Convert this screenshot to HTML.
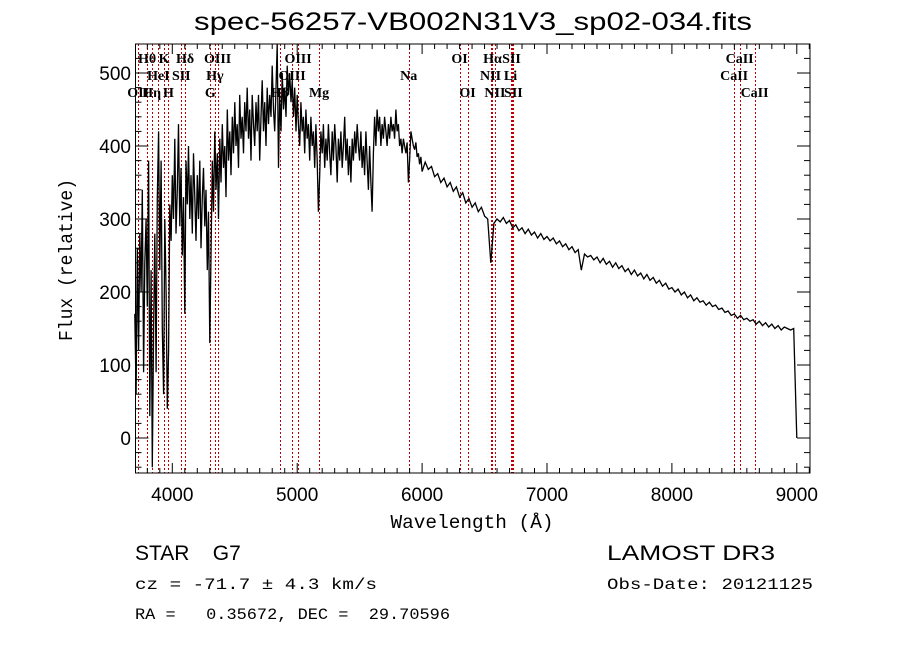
<!DOCTYPE html>
<html><head><meta charset="utf-8"><style>
html,body{margin:0;padding:0;background:#fff;}
svg{display:block;}
text{fill:#000;}
</style></head><body>
<svg id="chart" width="900" height="649" viewBox="0 0 900 649" xmlns="http://www.w3.org/2000/svg">
<rect x="0" y="0" width="900" height="649" fill="#fff"/>
<text x="473" y="30" font-family="Liberation Sans, sans-serif" font-size="25" text-anchor="middle" textLength="558" lengthAdjust="spacingAndGlyphs">spec-56257-VB002N31V3_sp02-034.fits</text>
<g id="lines"></g>
<g id="series"></g>
<g id="axes"></g>
<text x="472" y="528" font-family="Liberation Mono, monospace" font-size="19" text-anchor="middle" textLength="163" lengthAdjust="spacingAndGlyphs">Wavelength (Å)</text>
<text transform="translate(72,260) rotate(-90)" font-family="Liberation Mono, monospace" font-size="19" text-anchor="middle" textLength="162" lengthAdjust="spacingAndGlyphs">Flux (relative)</text>
<text x="135" y="560" font-family="Liberation Sans, sans-serif" font-size="21" xml:space="preserve">STAR    G7</text>
<text x="607" y="560" font-family="Liberation Sans, sans-serif" font-size="21" textLength="168" lengthAdjust="spacingAndGlyphs">LAMOST DR3</text>
<text x="135" y="589" font-family="Liberation Mono, monospace" font-size="16" textLength="242" lengthAdjust="spacingAndGlyphs">cz = -71.7 ± 4.3 km/s</text>
<text x="607" y="589" font-family="Liberation Mono, monospace" font-size="16" textLength="206" lengthAdjust="spacingAndGlyphs">Obs-Date: 20121125</text>
<text x="135" y="619" font-family="Liberation Mono, monospace" font-size="16" xml:space="preserve" textLength="315" lengthAdjust="spacingAndGlyphs">RA =   0.35672, DEC =  29.70596</text>
</svg>
<script>
const blueStart = 3700, blueStep = 10;
const blueFlux = [170,60,260,120,280,200,340,90,240,300,180,380,30,230,-40,150,280,90,330,420,230,380,150,60,300,200,40,120,320,270,
360,300,410,280,340,430,290,370,250,330,170,380,320,400,300,360,280,390,330,270,360,300,380,260,330,370,290,340,230,310,
130,250,380,310,420,340,390,300,410,350,430,370,400,330,450,380,420,360,440,390,460,400,430,370,470,410,440,390,460,420,
480,410,450,380,470,430,400,460,420,470,380,440,490,420,460,400,480,430,470,440,510,450,420,480,540,370,470,420,500,450,
480,440,510,470,500,460,490,440,480,420,470,430,400,460,420,440,390,450,410,430,380,440,400,420,370,430,380,310,360,420,
390,430,370,410,380,430,390,360,420,380,430,400,350,410,380,420,370,400,440,380,410,360,400,350,410,380,420,390,430,400,
380,420,370,400,360,420,380,340,400,350,310,390,440,400,450,420,440,400,430,410,440,420,400,430,410,440,420,430,410,450,
420,430,400,410,390,410,400,390,405,350,380,420,410,400,395,405,385,390,375,385,365];
const redStart = 6025, redStep = 25;
const redFlux = [
378,368,372,358,362,350,356,344,350,338,
344,330,336,322,328,316,322,310,316,304,
300,240,294,300,296,302,294,298,288,292,
284,288,280,286,278,282,274,280,272,276,
270,274,266,270,262,266,258,262,254,258,
230,252,248,250,244,248,240,246,238,242,
234,240,232,236,228,232,224,230,222,226,
218,224,216,220,212,216,208,212,204,206,
200,204,196,200,192,196,188,192,186,188,
182,186,180,182,176,178,172,174,168,170,
164,168,162,164,160,162,156,160,154,158,
152,156,150,154,148,152,150,148,150,0];
const lineWave = [3727,3798,3835,3889,3934,3969,4072,4102,4304,4341,4363,4861,4959,5007,5175,5893,6300,6364,6548,6563,6583,6708,6716,6731,8498,8542,8662];
const lineLabels = [
 ["OII",3727,3],["Hθ",3798,1],["Hη",3835,3],["HeI",3889,2],["K",3934,1],["H",3969,3],["SII",4072,2],["Hδ",4102,1],
 ["G",4304,3],["Hγ",4341,2],["OIII",4363,1],["Hβ",4861,3],["OIII",4959,2],["OIII",5007,1],["Mg",5175,3],["Na",5893,2],
 ["OI",6300,1],["OI",6364,3],["NII",6548,2],["Hα",6563,1],["NII",6583,3],["Li",6708,2],["SII",6716,1],["SII",6731,3],
 ["CaII",8498,2],["CaII",8542,1],["CaII",8662,3]];
const xTicks = [4000,5000,6000,7000,8000,9000];
const yTicks = [0,100,200,300,400,500];

const L=135.5,R=810,T=44,B=473;
const xs = w => 172.3 + (w-4000)*0.1249;
const ys = v => 438 - v*0.73;
const NS="http://www.w3.org/2000/svg";
function mk(tag, attrs, parent){const e=document.createElementNS(NS,tag);for(const k in attrs)e.setAttribute(k,attrs[k]);parent.appendChild(e);return e;}

const lg=document.getElementById('lines');
lineWave.forEach(w=>{
  const x=Math.round(xs(w))+0.5;
  const l=mk('line',{x1:x,x2:x,y1:T,y2:B,stroke:'#c00000','stroke-width':1,'stroke-dasharray':'2,2'},lg);
  
  
});
lineLabels.forEach(([t,w,r])=>{
  const e=mk('text',{x:xs(w),y:T+19+(r-1)*17,'text-anchor':'middle','font-family':'Liberation Serif, serif','font-size':14,'font-weight':'bold'},lg);
  e.textContent=t;
  
  
});

let pts=[];
blueFlux.forEach((f,i)=>{pts.push([xs(blueStart+i*blueStep),ys(f)]);});
redFlux.forEach((f,i)=>{pts.push([xs(redStart+i*redStep),ys(f)]);});
let d='';
pts.forEach((p,i)=>{const y=Math.max(T,Math.min(B,p[1]));d+=(i?'L':'M')+p[0].toFixed(1)+','+y.toFixed(1);});
const sg=document.getElementById('series');
const path=mk('path',{d:d,fill:'none',stroke:'#000','stroke-width':1.3,'stroke-linejoin':'miter'},sg);



const ag=document.getElementById('axes');
const frame=mk('rect',{x:L,y:T,width:R-L,height:B-T,fill:'none',stroke:'#000','stroke-width':1},ag);


for(let w=3800;w<=9100;w+=100){
  const x=xs(w); if(x<L||x>R)continue;
  const len=(w%1000===0)?10:5;
  mk('line',{x1:x,x2:x,y1:B,y2:B-len,stroke:'#000'},ag);
  mk('line',{x1:x,x2:x,y1:T,y2:T+len,stroke:'#000'},ag);
}
for(let v=-40;v<=540;v+=20){
  const y=ys(v); if(y<T||y>B)continue;
  const len=(v%100===0)?13:6;
  mk('line',{x1:L,x2:L+len,y1:y,y2:y,stroke:'#000'},ag);
  mk('line',{x1:R,x2:R-len,y1:y,y2:y,stroke:'#000'},ag);
}
xTicks.forEach(w=>{
  const e=mk('text',{x:xs(w),y:501,'text-anchor':'middle','font-family':'Liberation Sans, sans-serif','font-size':19},ag);
  e.textContent=w;
  
  
});
yTicks.forEach(v=>{
  const e=mk('text',{x:131,y:ys(v)+7,'text-anchor':'end','font-family':'Liberation Sans, sans-serif','font-size':19},ag);
  e.textContent=v;
  
  
});
</script>
</body></html>
